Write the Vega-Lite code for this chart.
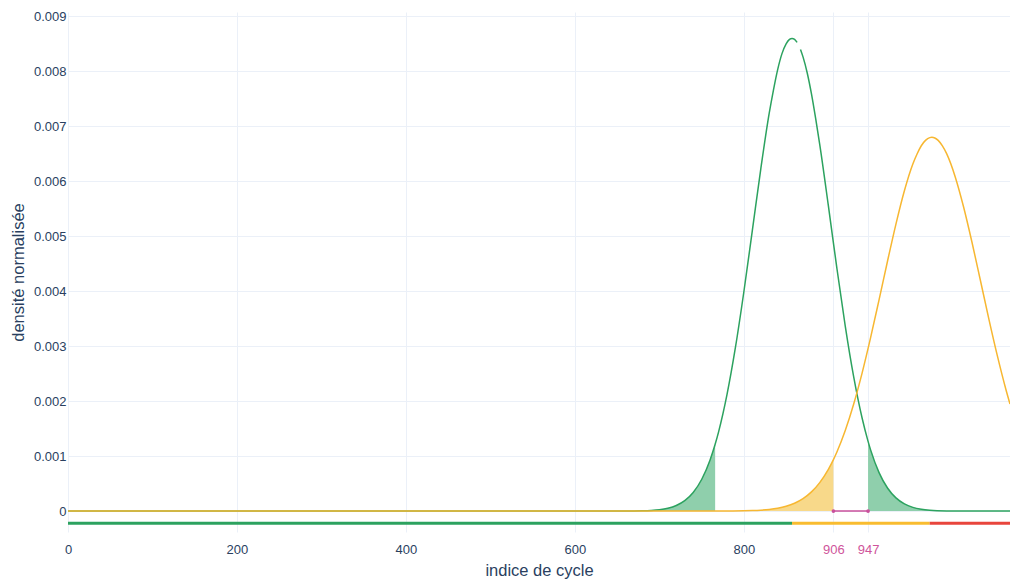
{
  "$schema": "https://vega.github.io/schema/vega-lite/v6.json",
  "width": 942,
  "height": 520,
  "autosize": {"type": "none"},
  "padding": {"left": 68, "top": 12, "right": 0, "bottom": 51},
  "background": "white",
  "config": {
    "view": {"stroke": null},
    "font": "Liberation Sans",
    "axis": {
      "gridColor": "#ebf0f8",
      "gridWidth": 1,
      "domain": false,
      "ticks": false,
      "labelFlush": false,
      "labelFont": "Liberation Sans",
      "labelFontSize": 13,
      "labelColor": "#2a3f5f",
      "titleFont": "Liberation Sans",
      "titleFontSize": 16.5,
      "titleFontWeight": "normal",
      "titleColor": "#2a3f5f"
    },
    "axisY": {
      "title": "densité normalisée",
      "values": [0, 0.001, 0.002, 0.003, 0.004, 0.005, 0.006, 0.007, 0.008, 0.009],
      "format": "~g",
      "labelPadding": 2,
      "titlePadding": 7
    }
  },
  "datasets": {
    "green": [
      {"x": 0, "y": 0}, {"x": 600, "y": 0}, {"x": 660, "y": 0.0000009}, {"x": 670, "y": 0.0000022},
      {"x": 680, "y": 0.0000052}, {"x": 690, "y": 0.0000118}, {"x": 700, "y": 0.000025},
      {"x": 710, "y": 0.000052}, {"x": 720, "y": 0.000102}, {"x": 730, "y": 0.00019},
      {"x": 740, "y": 0.000339}, {"x": 750, "y": 0.000575}, {"x": 760, "y": 0.000931},
      {"x": 766, "y": 0.001215}, {"x": 770, "y": 0.001438}, {"x": 780, "y": 0.002119},
      {"x": 790, "y": 0.002977}, {"x": 800, "y": 0.003991}, {"x": 810, "y": 0.005103},
      {"x": 820, "y": 0.006223}, {"x": 830, "y": 0.007239}, {"x": 835, "y": 0.00766},
      {"x": 840, "y": 0.008032}, {"x": 845, "y": 0.008318}, {"x": 850, "y": 0.008501},
      {"x": 854, "y": 0.008582}, {"x": 857, "y": 0.0086}, {"x": 860, "y": 0.008582},
      {"x": 863, "y": 0.008527}, {"x": 865, "y": null}, {"x": 867, "y": 0.008399},
      {"x": 870, "y": 0.008264}, {"x": 875, "y": 0.007971}, {"x": 880, "y": 0.00759},
      {"x": 885, "y": 0.007139}, {"x": 890, "y": 0.006649},
      {"x": 900, "y": 0.005556}, {"x": 910, "y": 0.004428}, {"x": 920, "y": 0.003367},
      {"x": 930, "y": 0.002442}, {"x": 940, "y": 0.001689}, {"x": 947, "y": 0.001269},
      {"x": 950, "y": 0.001114}, {"x": 960, "y": 0.000701}, {"x": 970, "y": 0.000421},
      {"x": 980, "y": 0.000241}, {"x": 990, "y": 0.000132}, {"x": 1000, "y": 0.0000686},
      {"x": 1010, "y": 0.0000341}, {"x": 1020, "y": 0.0000162}, {"x": 1040, "y": 0.0000031},
      {"x": 1060, "y": 0.0000005}, {"x": 1115, "y": 0}
    ],
    "yellow": [
      {"x": 0, "y": 0}, {"x": 700, "y": 0}, {"x": 760, "y": 0.0000003}, {"x": 780, "y": 0.0000013},
      {"x": 800, "y": 0.0000049}, {"x": 810, "y": 0.0000093}, {"x": 820, "y": 0.000017},
      {"x": 830, "y": 0.00003}, {"x": 840, "y": 0.000052}, {"x": 850, "y": 0.000088},
      {"x": 860, "y": 0.000144}, {"x": 870, "y": 0.000227}, {"x": 880, "y": 0.00035},
      {"x": 890, "y": 0.000523}, {"x": 900, "y": 0.00076}, {"x": 906, "y": 0.000936},
      {"x": 910, "y": 0.00107}, {"x": 920, "y": 0.001465}, {"x": 930, "y": 0.001948},
      {"x": 940, "y": 0.002516}, {"x": 950, "y": 0.003155}, {"x": 960, "y": 0.003843},
      {"x": 970, "y": 0.004546}, {"x": 980, "y": 0.005222}, {"x": 990, "y": 0.005828},
      {"x": 1000, "y": 0.006315}, {"x": 1005, "y": 0.006497}, {"x": 1010, "y": 0.006647},
      {"x": 1015, "y": 0.006744}, {"x": 1020, "y": 0.006794},
      {"x": 1022.5, "y": 0.0068}, {"x": 1026, "y": 0.006788}, {"x": 1030, "y": 0.006744},
      {"x": 1035, "y": 0.006644}, {"x": 1040, "y": 0.006503},
      {"x": 1050, "y": 0.006089}, {"x": 1060, "y": 0.005537}, {"x": 1070, "y": 0.004891},
      {"x": 1080, "y": 0.004195}, {"x": 1090, "y": 0.003494}, {"x": 1100, "y": 0.002828},
      {"x": 1110, "y": 0.002222}, {"x": 1115, "y": 0.001948}
    ],
    "bars": [
      {"x": 0, "x2": 857, "zone": "vert"},
      {"x": 857, "x2": 1020, "zone": "jaune"},
      {"x": 1020, "x2": 1115, "zone": "rouge"}
    ],
    "interval": [{"x": 906, "x2": 947}],
    "bounds": [{"x": 906}, {"x": 947}]
  },
  "encoding": {
    "x": {
      "field": "x",
      "type": "quantitative",
      "scale": {"domain": [0, 1115], "nice": false, "zero": false},
      "axis": {
        "title": "indice de cycle",
        "values": [0, 200, 400, 600, 800, 906, 947],
        "format": "d",
        "labelPadding": 11,
        "titlePadding": 6,
        "labelColor": {"condition": {"test": "datum.value == 906 || datum.value == 947", "value": "#cf559b"}, "value": "#2a3f5f"}
      }
    }
  },
  "layer": [
    {
      "data": {"name": "green"},
      "transform": [{"filter": "datum.y != null && datum.x <= 766"}],
      "mark": {"type": "area", "color": "#8fcfac", "opacity": 1, "interpolate": "monotone"},
      "encoding": {
        "y": {"field": "y", "type": "quantitative", "title": "densité normalisée", "scale": {"domain": [-0.00038, 0.00908], "nice": false, "zero": false}},
        "y2": {"datum": 0}
      }
    },
    {
      "data": {"name": "green"},
      "transform": [{"filter": "datum.y != null && datum.x >= 947"}],
      "mark": {"type": "area", "color": "#8fcfac", "opacity": 1, "interpolate": "monotone"},
      "encoding": {
        "y": {"field": "y", "type": "quantitative", "title": "densité normalisée", "scale": {"domain": [-0.00038, 0.00908], "nice": false, "zero": false}},
        "y2": {"datum": 0}
      }
    },
    {
      "data": {"name": "yellow"},
      "transform": [{"filter": "datum.x <= 906"}],
      "mark": {"type": "area", "color": "#f8d98a", "opacity": 1, "interpolate": "monotone"},
      "encoding": {
        "y": {"field": "y", "type": "quantitative", "title": "densité normalisée", "scale": {"domain": [-0.00038, 0.00908], "nice": false, "zero": false}},
        "y2": {"datum": 0}
      }
    },
    {
      "data": {"name": "bars"},
      "mark": {"type": "rule", "strokeWidth": 3},
      "encoding": {
        "x2": {"field": "x2"},
        "y": {"datum": -0.00022, "type": "quantitative", "title": "densité normalisée", "scale": {"domain": [-0.00038, 0.00908], "nice": false, "zero": false}},
        "color": {
          "field": "zone",
          "type": "nominal",
          "scale": {"domain": ["vert", "jaune", "rouge"], "range": ["#2ca25f", "#f9bc2f", "#e8453c"]},
          "legend": null
        }
      }
    },
    {
      "data": {"name": "green"},
      "mark": {"type": "line", "color": "#2ca25f", "strokeWidth": 1.5, "interpolate": "monotone", "invalid": "break-paths-show-domains"},
      "encoding": {
        "y": {"field": "y", "type": "quantitative", "title": "densité normalisée", "scale": {"domain": [-0.00038, 0.00908], "nice": false, "zero": false}}
      }
    },
    {
      "data": {"name": "yellow"},
      "mark": {"type": "line", "color": "#f7b731", "strokeWidth": 1.5, "interpolate": "monotone"},
      "encoding": {
        "y": {"field": "y", "type": "quantitative", "title": "densité normalisée", "scale": {"domain": [-0.00038, 0.00908], "nice": false, "zero": false}}
      }
    },
    {
      "data": {"name": "interval"},
      "mark": {"type": "rule", "color": "#c9509c", "strokeWidth": 1.5},
      "encoding": {
        "x2": {"field": "x2"},
        "y": {"datum": 0, "type": "quantitative", "title": "densité normalisée", "scale": {"domain": [-0.00038, 0.00908], "nice": false, "zero": false}}
      }
    },
    {
      "data": {"name": "bounds"},
      "mark": {"type": "point", "filled": true, "color": "#c9509c", "size": 14, "opacity": 1},
      "encoding": {
        "y": {"datum": 0, "type": "quantitative", "title": "densité normalisée", "scale": {"domain": [-0.00038, 0.00908], "nice": false, "zero": false}}
      }
    }
  ]
}
